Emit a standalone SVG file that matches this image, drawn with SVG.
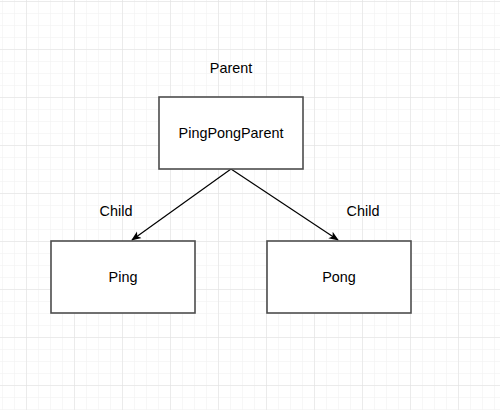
<svg xmlns="http://www.w3.org/2000/svg" width="500" height="410" viewBox="0 0 500 410">
<defs>
<pattern id="minor" x="2" y="1" width="12" height="12" patternUnits="userSpaceOnUse">
<path d="M0 0H12M0 0V12" fill="none" stroke="#f0f0f0" stroke-width="1"/>
</pattern>
<pattern id="major" x="26" y="1" width="48" height="48" patternUnits="userSpaceOnUse">
<path d="M0 0H48M0 0V48" fill="none" stroke="#e0e0e0" stroke-width="1"/>
</pattern>
<marker id="arrow" viewBox="0 0 10 10" refX="9" refY="5" markerWidth="10" markerHeight="10" markerUnits="userSpaceOnUse" orient="auto">
<path d="M0 1L10 5L0 9L2.5 5Z" fill="#000"/>
</marker>
</defs>
<style>
.box{fill:#fff;stroke:#4d4d4d;stroke-width:1.6}
.t{font-family:"Liberation Sans",Arial,sans-serif;font-size:14.4px;fill:#000;text-anchor:middle;dominant-baseline:central}
.edge{fill:none;stroke:#000;stroke-width:1.2;marker-end:url(#arrow)}
</style>
<rect width="500" height="410" fill="#fff"/>
<rect width="500" height="410" fill="url(#minor)"/>
<rect width="500" height="410" fill="url(#major)"/>
<g id="connectors">
<path class="edge" d="M231 169L132 240"/>
<path class="edge" d="M231 169L338 240"/>
<text class="t" x="116" y="211">Child</text>
<text class="t" x="363" y="211">Child</text>
</g>
<text class="t" x="231" y="67.5">Parent</text>
<g id="parent">
<rect class="box" x="159" y="97" width="144" height="72"/>
<text class="t" x="231" y="132.5">PingPongParent</text>
</g>
<g id="ping">
<rect class="box" x="51" y="241" width="144" height="72"/>
<text class="t" x="123" y="276.5">Ping</text>
</g>
<g id="pong">
<rect class="box" x="267" y="241" width="144" height="72"/>
<text class="t" x="339" y="276.5">Pong</text>
</g>
</svg>
